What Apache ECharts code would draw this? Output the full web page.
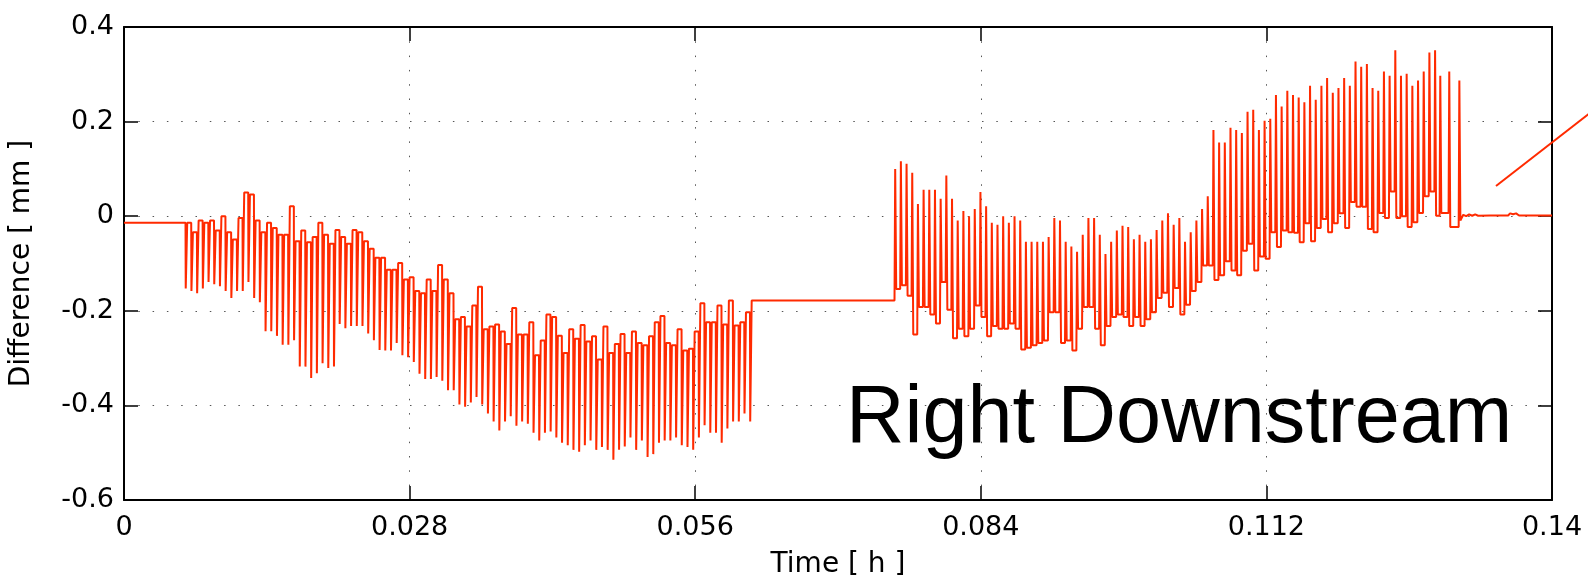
<!DOCTYPE html>
<html>
<head>
<meta charset="utf-8">
<script src="https://cdn.jsdelivr.net/npm/echarts@6/dist/echarts.min.js"></script>
<style>
  html, body { margin: 0; padding: 0; background: #ffffff; }
  #chart { width: 1588px; height: 585px; }
</style>
</head>
<body>
<div id="chart"></div>
<script>
// Axis tick labels
const xTickLabels = ['0', '0.028', '0.056', '0.084', '0.112', '0.14'];
const yTickLabels = ['-0.6', '-0.4', '-0.2', '0', '0.2', '0.4'];

// Level held before the first run [mm]
const startLevel = -0.014;

// Run 1: time of the first and last cycle [h]; per cycle the dip and the plateau after it [mm]
const run1Start = 0.00603;
const run1End = 0.06137;
const run1Low = [
  -0.153, -0.158, -0.163, -0.153, -0.139, -0.144, -0.148, -0.158, -0.173, -0.158,
  -0.158, -0.139, -0.173, -0.182, -0.243, -0.243, -0.253, -0.272, -0.272, -0.262,
  -0.318, -0.318, -0.342, -0.332, -0.311, -0.321, -0.318, -0.228, -0.237, -0.232,
  -0.232, -0.232, -0.248, -0.262, -0.283, -0.284, -0.284, -0.268, -0.294, -0.298,
  -0.308, -0.333, -0.344, -0.344, -0.340, -0.348, -0.368, -0.368, -0.398, -0.403,
  -0.394, -0.382, -0.398, -0.417, -0.434, -0.453, -0.434, -0.423, -0.443, -0.434,
  -0.439, -0.458, -0.474, -0.458, -0.455, -0.468, -0.479, -0.484, -0.494, -0.498,
  -0.484, -0.474, -0.494, -0.488, -0.494, -0.515, -0.494, -0.487, -0.468, -0.494,
  -0.474, -0.509, -0.503, -0.479, -0.474, -0.474, -0.468, -0.484, -0.488, -0.494,
  -0.468, -0.442, -0.458, -0.458, -0.479, -0.449, -0.434, -0.434, -0.417, -0.434
];
const run1High = [
  -0.014, -0.034, -0.009, -0.014, -0.009, -0.030,  0.000, -0.034, -0.049, -0.004,
   0.050,  0.046, -0.009, -0.034, -0.014, -0.025, -0.039, -0.039,  0.021, -0.053,
  -0.030, -0.055, -0.044, -0.014, -0.039, -0.058, -0.029, -0.044, -0.058, -0.029,
  -0.034, -0.053, -0.069, -0.088, -0.088, -0.113, -0.113, -0.099, -0.134, -0.129,
  -0.158, -0.163, -0.134, -0.158, -0.103, -0.134, -0.163, -0.218, -0.213, -0.233,
  -0.189, -0.149, -0.239, -0.233, -0.229, -0.244, -0.270, -0.194, -0.250, -0.250,
  -0.224, -0.294, -0.263, -0.208, -0.213, -0.253, -0.289, -0.239, -0.259, -0.230,
  -0.265, -0.254, -0.303, -0.233, -0.289, -0.270, -0.249, -0.289, -0.244, -0.268,
  -0.273, -0.254, -0.224, -0.211, -0.268, -0.273, -0.239, -0.284, -0.280, -0.244,
  -0.184, -0.224, -0.224, -0.189, -0.229, -0.178, -0.231, -0.224, -0.203, -0.178
];

// Run 2: regular cycles between run2Start and run2RegularEnd, then the last slower cycles [h]
const run2Start = 0.07554;
const run2RegularEnd = 0.12847;
const run2TailTimes = [0.12898, 0.12986, 0.13085];
// per cycle the spike and the trough after it [mm]
const run2High = [
   0.100,  0.116,  0.111,  0.092,  0.026,  0.056,  0.056,  0.056,  0.037,  0.086,
   0.037, -0.009,  0.011,  0.000,  0.015,  0.051,  0.021, -0.014, -0.018,  0.000,
  -0.014,  0.000, -0.009, -0.054, -0.054, -0.054, -0.054, -0.044, -0.004, -0.009,
  -0.054, -0.064, -0.075, -0.039, -0.004, -0.004, -0.039, -0.080, -0.054, -0.030,
  -0.020, -0.023, -0.049, -0.039, -0.054, -0.049, -0.029, -0.009,  0.006, -0.018,
  -0.004, -0.054, -0.034, -0.009,  0.015,  0.042,  0.182,  0.156,  0.156,  0.187,
   0.182,  0.176,  0.221,  0.225,  0.182,  0.202,  0.206,  0.256,  0.232,  0.265,
   0.256,  0.251,  0.241,  0.276,  0.246,  0.276,  0.292,  0.261,  0.271,  0.292,
   0.276,  0.327,  0.316,  0.322,  0.271,  0.265,  0.306,  0.297,  0.351,  0.297,
   0.301,  0.276,  0.287,  0.306,  0.346,  0.351,  0.297,  0.306,  0.287
];
const run2Low = [
  -0.154, -0.146, -0.168, -0.250, -0.192, -0.192, -0.208, -0.227, -0.139, -0.198,
  -0.258, -0.238, -0.254, -0.238, -0.189, -0.213, -0.254, -0.232, -0.238, -0.238,
  -0.227, -0.238, -0.282, -0.278, -0.273, -0.268, -0.263, -0.203, -0.203, -0.268,
  -0.263, -0.284, -0.238, -0.192, -0.192, -0.238, -0.273, -0.232, -0.213, -0.208,
  -0.213, -0.232, -0.213, -0.232, -0.218, -0.203, -0.173, -0.162, -0.192, -0.152,
  -0.208, -0.187, -0.158, -0.139, -0.104, -0.104, -0.135, -0.125, -0.095, -0.115,
  -0.125, -0.073, -0.058, -0.115, -0.085, -0.090, -0.034, -0.065, -0.030, -0.034,
  -0.035, -0.055, -0.015, -0.053, -0.025, -0.006, -0.034, -0.015,  0.006, -0.025,
   0.030,  0.020,  0.020, -0.027, -0.034,  0.007, -0.004,  0.052, -0.004,  0.000,
  -0.023, -0.013,  0.007,  0.042,  0.052,  0.001,  0.007, -0.023, -0.009
];

// Settling after run 2
const settleTimes  = [0.13130, 0.13159, 0.13188, 0.13218, 0.13247, 0.13276, 0.13394, 0.13570, 0.13589, 0.13619, 0.13648, 0.13677, 0.14000];
const settleValues = [0.003,   0.000,   0.004,   0.001,   0.004,   0.001,   0.0015,  0.0015,  0.006,   0.004,   0.006,   0.0015,  0.0015];

// Build the trace: run 1 has short dips below a held plateau,
// run 2 has short spikes above a held trough.
function buildTrace() {
  const pts = [[0, startLevel]];
  let level = startLevel;

  const n1 = run1Low.length;
  const p1 = (run1End - run1Start) / (n1 - 1);
  for (let i = 0; i < n1; i++) {
    const d = run1Start + i * p1;
    pts.push([d, level]);
    pts.push([d + 0.04 * p1, run1Low[i]]);
    pts.push([d + 0.24 * p1, run1Low[i]]);
    pts.push([d + 0.30 * p1, run1High[i]]);
    level = run1High[i];
  }

  const nReg = run2High.length - run2TailTimes.length;
  const p2 = (run2RegularEnd - run2Start) / (nReg - 1);
  const run2Times = [];
  for (let i = 0; i < nReg; i++) run2Times.push(run2Start + i * p2);
  run2Times.push(...run2TailTimes);

  for (let i = 0; i < run2High.length; i++) {
    const s = run2Times[i];
    pts.push([s, level]);
    pts.push([s + 0.12 * p2, run2High[i]]);
    pts.push([s + 0.30 * p2, run2Low[i]]);
    level = run2Low[i];
  }

  for (let j = 0; j < settleTimes.length; j++) pts.push([settleTimes[j], settleValues[j]]);
  return pts;
}

const traceColor = '#ff2a00';
const tickFont = { fontFamily: '"DejaVu Sans", sans-serif', fontSize: 27, color: '#000' };
const titleFont = { fontFamily: '"DejaVu Sans", sans-serif', fontSize: 28, color: '#000' };
const frameLine = { show: true, onZero: false, lineStyle: { color: '#000', width: 2 } };
const innerTick = { show: true, inside: true, length: 14, lineStyle: { color: '#000', width: 1.5 } };
const dotted = { show: true, lineStyle: { color: '#555', width: 1, type: [1.5, 12.8] } };

const chart = echarts.init(document.getElementById('chart'), null, { renderer: 'canvas' });
chart.setOption({
  animation: false,
  backgroundColor: '#ffffff',
  grid: { left: 120, right: 36, top: 27, bottom: 85, containLabel: false },
  xAxis: [
    {
      type: 'value', position: 'bottom', min: 0, max: 0.14, interval: 0.028,
      name: 'Time [ h ]', nameLocation: 'middle', nameGap: 51, nameTextStyle: titleFont,
      axisLine: frameLine, axisTick: innerTick, splitLine: dotted,
      axisLabel: Object.assign({ margin: 14, formatter: (v, i) => xTickLabels[i] }, tickFont)
    },
    {
      type: 'value', position: 'top', min: 0, max: 0.14, interval: 0.028,
      axisLine: frameLine, axisTick: innerTick, splitLine: { show: false },
      axisLabel: { show: false }
    }
  ],
  yAxis: [
    {
      type: 'value', position: 'left', min: -0.6, max: 0.4, interval: 0.2,
      name: 'Difference [ mm ]', nameLocation: 'middle', nameGap: 88, nameRotate: 90,
      nameTextStyle: titleFont,
      axisLine: frameLine, axisTick: innerTick, splitLine: dotted,
      axisLabel: Object.assign({ margin: 10, formatter: (v, i) => yTickLabels[i] }, tickFont)
    },
    {
      type: 'value', position: 'right', min: -0.6, max: 0.4, interval: 0.2,
      axisLine: frameLine, axisTick: innerTick, splitLine: { show: false },
      axisLabel: { show: false }
    }
  ],
  series: [
    {
      type: 'line',
      xAxisIndex: 0, yAxisIndex: 0,
      data: buildTrace(),
      showSymbol: false,
      symbol: 'none',
      lineStyle: { color: traceColor, width: 2 },
      z: 3
    }
  ],
  graphic: [
    {
      type: 'text',
      style: {
        text: 'Right Downstream',
        x: 846, y: 420,
        font: '81px "Liberation Sans", Arial, Helvetica, sans-serif',
        fill: '#000',
        textAlign: 'left',
        textVerticalAlign: 'middle'
      },
      z: 10
    },
    {
      type: 'line',
      shape: { x1: 1496, y1: 186, x2: 1610, y2: 97.4 },
      style: { stroke: traceColor, lineWidth: 2 },
      z: 10
    }
  ]
});
</script>
</body>
</html>
